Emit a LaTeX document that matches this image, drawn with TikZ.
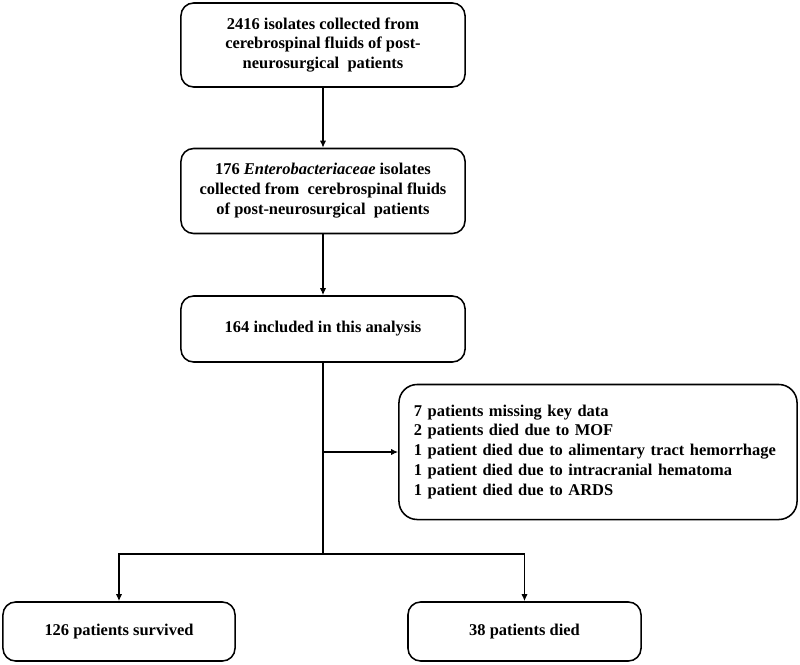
\documentclass[tikz,border=0pt]{standalone}
\usepackage{fontspec}
\setmainfont{Liberation Serif}
\usepackage{tikz}
\usetikzlibrary{
  arrows.meta,
  positioning,
  calc
}
\tikzset{
  flowbox/.style={draw,line width=1.1pt,rounded corners=9pt,align=center,
    font=\fontsize{11.7}{14.2}\selectfont\bfseries,inner sep=2pt},
  arr/.style={line width=1.1pt,-{Latex[length=5pt,width=4.5pt]}},
  link/.style={line width=1.1pt}
}

\begin{document}
\begin{tikzpicture}[x=0.025cm,y=-0.025cm]
  \useasboundingbox (0,0) rectangle (800,664);
  % Main column
  \node[flowbox,minimum width=7.1cm,minimum height=2.1cm] (iso) at (323,45)
       {2416 isolates collected from\\cerebrospinal fluids of post-\\neurosurgical\ \ patients};
  \node[flowbox,minimum width=7.1cm,minimum height=2.125cm] (entero) at (323,191)
       {176 \textit{Enterobacteriaceae} isolates\\collected from\ \ cerebrospinal fluids\\of post-neurosurgical\ \ patients};
  \node[flowbox,minimum width=7.1cm,minimum height=1.65cm] (incl) at (323,329)
       {164 included in this analysis};
  % Excluded
  \node[flowbox,align=left,rounded corners=13pt,text width=9.2cm,inner xsep=0.375cm,
        minimum height=3.375cm] (excl) at (598,452)
       {7 patients missing key data\\2 patients died due to MOF\\1 patient died due to alimentary tract hemorrhage\\1 patient died due to intracranial hematoma\\1 patient died due to ARDS};
  % Outcomes
  \node[flowbox,minimum width=5.8cm,minimum height=1.475cm] (surv) at (119,631.5)
       {126 patients survived};
  \node[flowbox,minimum width=5.825cm,minimum height=1.475cm] (died) at (524.5,631.5)
       {38 patients died};
  % Junctions
  \coordinate (mid) at (323,452);
  \coordinate (split) at (323,554);
  % Arrows
  \draw[arr] (iso) -- (entero);
  \draw[arr] (entero) -- (incl);
  \draw[link] (incl) -- (split);
  \draw[arr] (mid) -- (mid -| excl.west);
  \draw[arr] (split) -| (surv);
  \draw[arr] (split) -| (died);
\end{tikzpicture}
\end{document}
